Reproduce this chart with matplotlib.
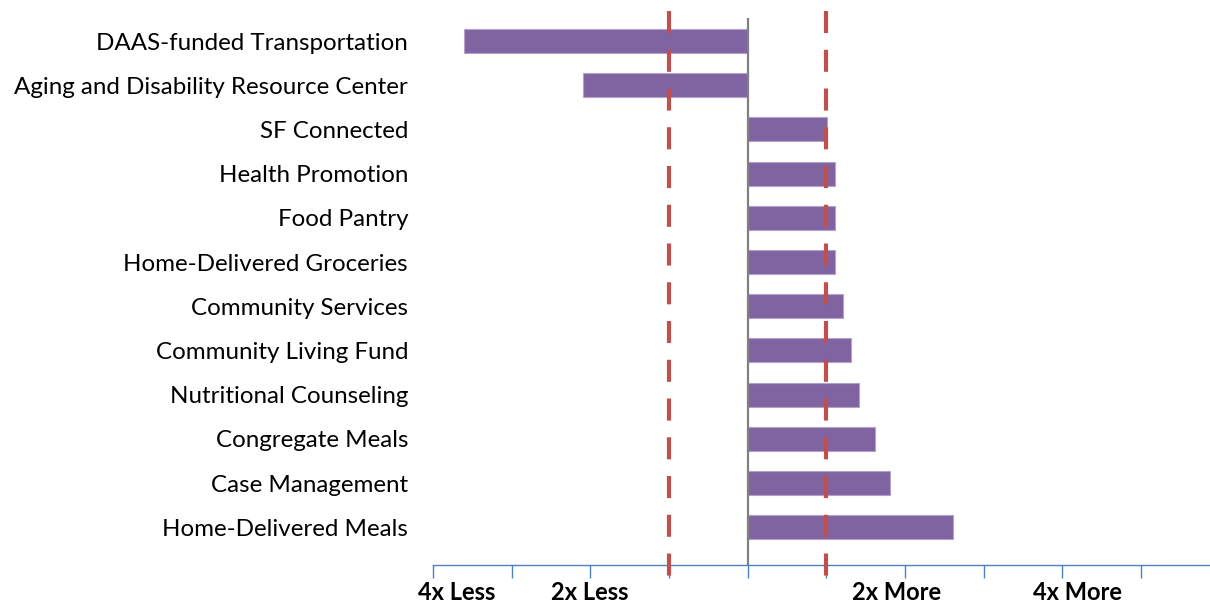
import matplotlib.pyplot as plt
import matplotlib.transforms as mtransforms

programs = ['DAAS-funded Transportation', 'Aging and Disability Resource Center',
            'SF Connected', 'Health Promotion', 'Food Pantry', 'Home-Delivered Groceries',
            'Community Services', 'Community Living Fund', 'Nutritional Counseling',
            'Congregate Meals', 'Case Management', 'Home-Delivered Meals']
values = [-3.60, -2.095, 1.014, 1.116, 1.116, 1.116, 1.21, 1.31, 1.416, 1.616, 1.815, 2.617]

scale_labels = ['4x Less', '2x Less', '2x More', '4x More']
scale_pos = [-3.70, -2.01, 1.90, 4.19]
ref_lines = [-1, 1]

plt.rcParams['font.family'] = ['Lato', 'DejaVu Sans']

fig = plt.figure(figsize=(12.1, 6.03), dpi=100)
ax = fig.add_axes([433 / 1210, 1 - 565 / 603, 1 - 433 / 1210, (565 - 11) / 603])

ypos = list(range(len(programs)))
ax.barh(ypos, values, height=0.545, color='#8064A2', edgecolor='#B3A2C7', linewidth=0.8, zorder=2)

ax.set_xlim(-4, 5.88)
ax.set_ylim(11.855, -0.679)

# zero line
ax.plot([0, 0], [-0.5, 11.855], color='#808080', linewidth=1.6, zorder=3)

# reference dashed lines reach a bit below the axis
for x in ref_lines:
    ax.plot([x, x], [-0.679, 12.17], color='#C0504D', linewidth=3,
            dashes=(5.3, 4), clip_on=False, zorder=4)

ax.set_yticks(ypos)
ax.set_yticklabels(programs, fontsize=17.4)
ax.tick_params(axis='y', length=0, pad=18)

ax.set_xticks(range(-4, 6))
ax.set_xticklabels([])
ax.tick_params(axis='x', direction='out', length=9, width=1, color='#4F81BD')

for side in ['left', 'right', 'top']:
    ax.spines[side].set_visible(False)
ax.spines['bottom'].set_color('#4F81BD')
ax.spines['bottom'].set_linewidth(1)

trans = mtransforms.blended_transform_factory(ax.transData, ax.transAxes)
for lbl, x in zip(scale_labels, scale_pos):
    ax.text(x, -27 / 554, lbl, transform=trans, ha='center', va='center',
            fontsize=17, fontweight='bold')

fig.savefig('out.png', dpi=100)
